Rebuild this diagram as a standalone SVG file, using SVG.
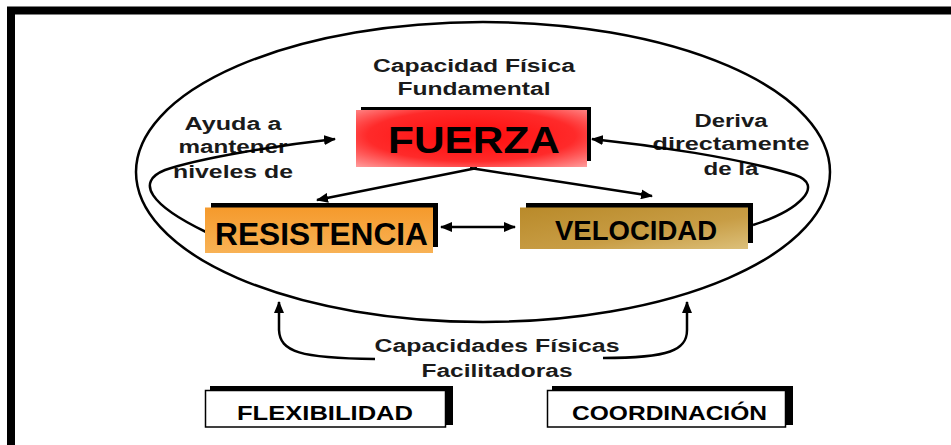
<svg xmlns="http://www.w3.org/2000/svg" width="951" height="445" viewBox="0 0 951 445">
<defs>
<radialGradient id="gRed" cx="0.5" cy="0.45" r="0.75">
<stop offset="0" stop-color="#ff0a0a"/>
<stop offset="0.6" stop-color="#ff2a2a"/>
<stop offset="1" stop-color="#ffa0a0"/>
</radialGradient>
<linearGradient id="gOrange" x1="0" y1="0" x2="0" y2="1">
<stop offset="0" stop-color="#f59a2c"/>
<stop offset="1" stop-color="#f8b255"/>
</linearGradient>
<linearGradient id="gGold" x1="0" y1="0" x2="1" y2="1">
<stop offset="0" stop-color="#b98a2a"/>
<stop offset="0.6" stop-color="#c89d45"/>
<stop offset="1" stop-color="#dcc07a"/>
</linearGradient>
<marker id="ah" markerWidth="12" markerHeight="10" refX="11" refY="5" orient="auto" markerUnits="userSpaceOnUse">
<path d="M0,0 L12,5 L0,10 Z" fill="#000"/>
</marker>
<marker id="ahs" markerWidth="12" markerHeight="10" refX="1" refY="5" orient="auto" markerUnits="userSpaceOnUse">
<path d="M12,0 L0,5 L12,10 Z" fill="#000"/>
</marker>
</defs>
<style>
.lbl{font-family:"Liberation Sans",Arial,sans-serif;font-weight:bold;font-size:18px;fill:#1a1a1a;text-anchor:middle}
.box{font-family:"Liberation Sans",Arial,sans-serif;font-weight:bold;fill:#000}
.con{fill:none;stroke:#000;stroke-width:2.5}
.shadow{fill:#000}
.wbox{fill:#fff;stroke:#000;stroke-width:1.5}
</style>
<rect x="11" y="10.5" width="960" height="440" fill="#fff" stroke="#000" stroke-width="8"/>
<ellipse cx="483" cy="172" rx="347" ry="150" fill="none" stroke="#000" stroke-width="2.5"/>

<g id="label-fundamental">
<text class="lbl" x="474" y="72" textLength="202" lengthAdjust="spacingAndGlyphs">Capacidad Física</text>
<text class="lbl" x="474" y="95" textLength="153" lengthAdjust="spacingAndGlyphs">Fundamental</text>
</g>
<g id="label-ayuda">
<text class="lbl" x="233" y="130" textLength="97" lengthAdjust="spacingAndGlyphs">Ayuda a</text>
<text class="lbl" x="233" y="153" textLength="109" lengthAdjust="spacingAndGlyphs">mantener</text>
<text class="lbl" x="233" y="178" textLength="120" lengthAdjust="spacingAndGlyphs">niveles de</text>
</g>
<g id="label-deriva">
<text class="lbl" x="731" y="127" textLength="73" lengthAdjust="spacingAndGlyphs">Deriva</text>
<text class="lbl" x="731" y="150" textLength="157" lengthAdjust="spacingAndGlyphs">directamente</text>
<text class="lbl" x="731" y="175" textLength="55" lengthAdjust="spacingAndGlyphs">de la</text>
</g>
<g id="label-facilitadoras">
<text class="lbl" x="497" y="352" textLength="245" lengthAdjust="spacingAndGlyphs">Capacidades Físicas</text>
<text class="lbl" x="497" y="377" textLength="151" lengthAdjust="spacingAndGlyphs">Facilitadoras</text>
</g>

<g id="connectors">
<path class="con" d="M477 168 L317 200" marker-end="url(#ah)"/>
<path class="con" d="M470 168 L652 196" marker-end="url(#ah)"/>
<path class="con" d="M441 227 L515 227" marker-start="url(#ahs)" marker-end="url(#ah)"/>
<path class="con" d="M206 232 C150 205, 135 182, 165 170 C200 158, 280 145, 335 139" marker-end="url(#ah)"/>
<path class="con" d="M753 225 C800 210, 825 185, 795 175 C740 158, 650 145, 592 139" marker-end="url(#ah)"/>
<path class="con" d="M375 359 C300 358, 280 352, 279 330 L279 302" marker-end="url(#ah)"/>
<path class="con" d="M603 358 C670 358, 687 350, 687 330 L687 302" marker-end="url(#ah)"/>
</g>

<g id="fuerza">
<rect class="shadow" x="361" y="107" width="230" height="54"/>
<rect x="356" y="110" width="231" height="57" fill="url(#gRed)"/>
<text class="box" x="388" y="153" font-size="36" textLength="172" lengthAdjust="spacingAndGlyphs">FUERZA</text>
</g>
<g id="resistencia">
<rect class="shadow" x="211" y="203" width="227" height="44"/>
<rect x="205" y="207.5" width="228" height="45.5" fill="url(#gOrange)"/>
<text class="box" x="215" y="245" font-size="32" textLength="213" lengthAdjust="spacingAndGlyphs">RESISTENCIA</text>
</g>
<g id="velocidad">
<rect class="shadow" x="526" y="203" width="227" height="40"/>
<rect x="520" y="207.5" width="228" height="41.5" fill="url(#gGold)"/>
<text class="box" x="555" y="240" font-size="27" textLength="162" lengthAdjust="spacingAndGlyphs">VELOCIDAD</text>
</g>
<g id="flexibilidad">
<rect class="shadow" x="210" y="386" width="243" height="39"/>
<rect class="wbox" x="205.5" y="390.5" width="240" height="36.5"/>
<text class="box" x="237" y="420" font-size="21" textLength="176" lengthAdjust="spacingAndGlyphs">FLEXIBILIDAD</text>
</g>
<g id="coordinacion">
<rect class="shadow" x="552" y="386" width="241" height="39"/>
<rect class="wbox" x="547.5" y="390.5" width="238" height="36.5"/>
<text class="box" x="572" y="420" font-size="21" textLength="195" lengthAdjust="spacingAndGlyphs">COORDINACIÓN</text>
</g>
</svg>
